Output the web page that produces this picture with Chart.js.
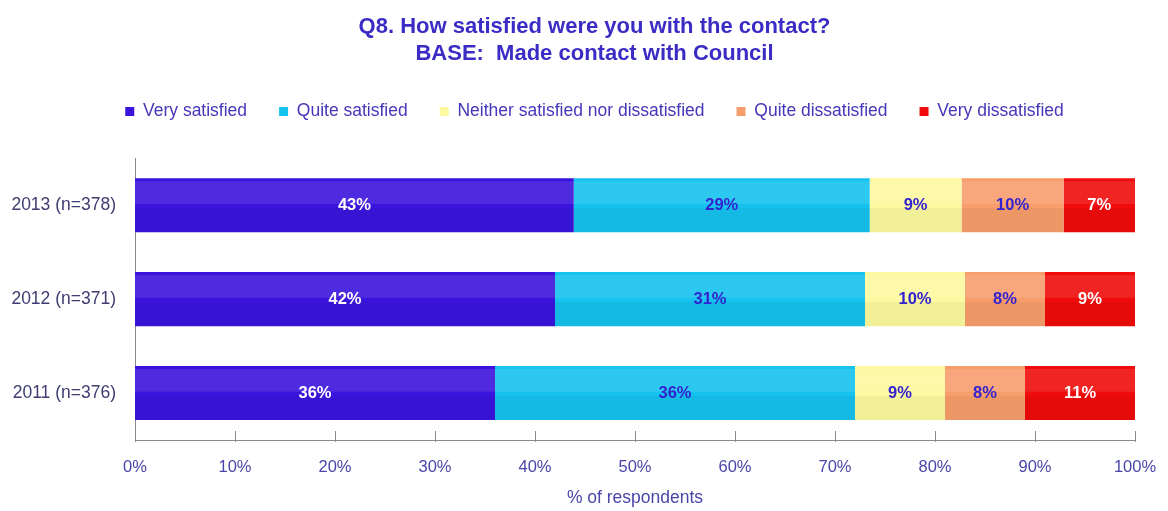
<!DOCTYPE html>
<html>
<head>
<meta charset="utf-8">
<script src="https://cdn.jsdelivr.net/npm/chart.js@4"></script>
<style>
  html, body { margin: 0; padding: 0; background: #fff; }
  #wrap { width: 1168px; height: 511px; }
</style>
</head>
<body>
<div id="wrap"><canvas id="chart"></canvas></div>
<script>
// values as printed on the chart (%), each row is drawn as a 100% stack
const categories = ["2013 (n=378)", "2012 (n=371)", "2011 (n=376)"];
const seriesNames = ["Very satisfied", "Quite satisfied", "Neither satisfied nor dissatisfied", "Quite dissatisfied", "Very dissatisfied"];
const verySatisfied = [43, 42, 36];
const quiteSatisfied = [29, 31, 36];
const neither = [9, 10, 9];
const quiteDissatisfied = [10, 8, 8];
const veryDissatisfied = [7, 9, 11];
const xTicks = [0, 10, 20, 30, 40, 50, 60, 70, 80, 90, 100];

const colors = ["#3a14dc", "#16c2ee", "#fcf9a0", "#f79e6c", "#f00c0c"];
const labelColors = ["#ffffff", "#3322d0", "#3322d0", "#3322d0", "#ffffff"];
const raw = [verySatisfied, quiteSatisfied, neither, quiteDissatisfied, veryDissatisfied];

const SANS = "'Liberation Sans', Arial, sans-serif";

const totals = categories.map((c, i) => raw.reduce((s, arr) => s + arr[i], 0));

const datasets = raw.map((arr, k) => ({
  label: seriesNames[k],
  data: arr.map((v, i) => v / totals[i] * 100),
  printed: arr,
  backgroundColor: colors[k],
  borderWidth: 0,
  barPercentage: 0.576,
  categoryPercentage: 1
}));

// highlight band, value labels, category labels and the small axis ticks
const barLabels = {
  id: "barLabels",
  afterDatasetsDraw(chart) {
    const ctx = chart.ctx;
    ctx.save();
    chart.data.datasets.forEach((ds, k) => {
      chart.getDatasetMeta(k).data.forEach((bar) => {
        const top = bar.y - bar.height / 2;
        ctx.fillStyle = "rgba(255,255,255,0.10)";
        ctx.fillRect(bar.base, top + 3, bar.x - bar.base, bar.height * 0.42);
        ctx.fillStyle = "rgba(0,0,0,0.04)";
        ctx.fillRect(bar.base, bar.y + bar.height * 0.05, bar.x - bar.base, bar.height * 0.45);
      });
    });
    ctx.font = "bold 16.5px " + SANS;
    ctx.textAlign = "center";
    ctx.textBaseline = "middle";
    chart.data.datasets.forEach((ds, k) => {
      chart.getDatasetMeta(k).data.forEach((bar, i) => {
        ctx.fillStyle = labelColors[k];
        ctx.fillText(ds.printed[i] + "%", (bar.x + bar.base) / 2, bar.y);
      });
    });

    // category labels, left of the y axis (drawn here so they are not clipped)
    const ys = chart.scales.y;
    ctx.font = "17.5px " + SANS;
    ctx.fillStyle = "#3e3c70";
    ctx.textAlign = "right";
    categories.forEach((c, i) => {
      ctx.fillText(c, ys.right - 19, ys.getPixelForTick(i));
    });

    const xs = chart.scales.x;
    ctx.strokeStyle = "#8a8a8a";
    ctx.lineWidth = 1;
    xTicks.forEach(v => {
      const px = Math.round(xs.getPixelForValue(v)) + 0.5;
      ctx.beginPath();
      ctx.moveTo(px, xs.top - 9);
      ctx.lineTo(px, xs.top + 2);
      ctx.stroke();
    });
    ctx.restore();
  }
};

new Chart(document.getElementById("chart"), {
  type: "bar",
  data: { labels: categories, datasets: datasets },
  plugins: [barLabels],
  options: {
    indexAxis: "y",
    responsive: true,
    maintainAspectRatio: false,
    animation: false,
    layout: { padding: { left: 32, right: 11, top: 6, bottom: 2 } },
    plugins: {
      tooltip: { enabled: false },
      title: {
        display: true,
        text: ["Q8. How satisfied were you with the contact?", "BASE:  Made contact with Council"],
        color: "#3a2cc4",
        font: { family: SANS, size: 22, weight: "bold", lineHeight: 1.2 },
        padding: { top: 8, bottom: 4 }
      },
      // empty spacer between the legend and the plot
      subtitle: {
        display: true,
        text: "",
        weight: 500,
        font: { size: 1, lineHeight: 1 },
        padding: { top: 13.5, bottom: 13.5 }
      },
      legend: {
        display: true,
        position: "top",
        labels: {
          color: "#4636b8",
          font: { family: SANS, size: 17.5 },
          boxWidth: 9,
          boxHeight: 9,
          padding: 32
        }
      }
    },
    scales: {
      x: {
        stacked: true,
        min: 0,
        max: 100,
        afterBuildTicks(scale) { scale.ticks = xTicks.map(v => ({ value: v })); },
        afterFit(scale) {
          scale.height = 69;
          scale.paddingLeft = 0;
          scale.paddingRight = 33;
        },
        ticks: {
          color: "#4a45a8",
          font: { family: SANS, size: 16.5 },
          padding: 18,
          callback: v => v + "%"
        },
        grid: { display: false, drawTicks: false, tickLength: 0 },
        border: { display: true, color: "#8a8a8a" },
        title: {
          display: true,
          text: "% of respondents",
          color: "#4a45a8",
          font: { family: SANS, size: 17.5 },
          padding: { top: 4, bottom: 0 }
        }
      },
      y: {
        stacked: true,
        afterFit(scale) { scale.width = 103; },
        ticks: { display: false },
        grid: { display: false, drawTicks: false, tickLength: 0 },
        border: { display: true, color: "#8a8a8a" }
      }
    }
  }
});
</script>
</body>
</html>
